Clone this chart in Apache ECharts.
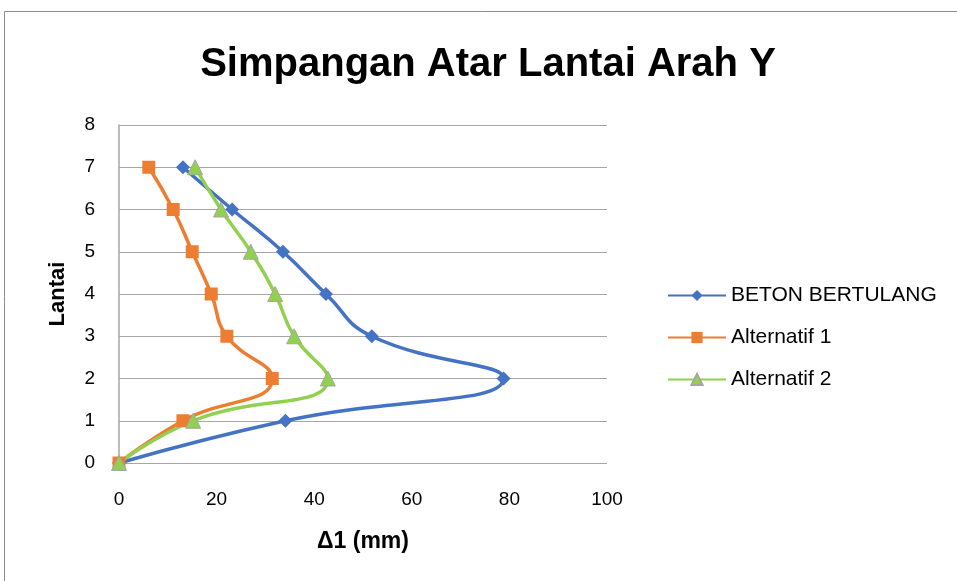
<!DOCTYPE html>
<html><head><meta charset="utf-8">
<script src="https://cdn.jsdelivr.net/npm/echarts@6/dist/echarts.min.js"></script>
<style>html,body{margin:0;padding:0;background:#fff}#c{width:957px;height:581px}</style>
</head><body><div id="c"></div>
<script>
const floors = [0, 1, 2, 3, 4, 5, 6, 7];
const betonBertulang = [0, 34.1, 78.8, 51.8, 42.4, 33.6, 23.2, 13.1];
const alternatif1 = [0, 13.1, 31.4, 22.1, 18.9, 15.0, 11.1, 6.1];
const alternatif2 = [0, 15.2, 42.8, 35.9, 32.0, 27.0, 20.9, 15.6];
const seriesNames = ['BETON BERTULANG', 'Alternatif 1', 'Alternatif 2'];

const pairs = vals => vals.map((v, i) => [v, floors[i]]);
const font = '"Liberation Sans", "Open Sans", sans-serif';
const chart = echarts.init(document.getElementById('c'));
const common = { type: 'line', smooth: 0.5, lineStyle: { width: 3.5 }, z: 3 };
chart.setOption({
  animation: false,
  textStyle: { fontFamily: font },
  graphic: [{ type: 'rect', shape: { x: 4.5, y: 11.5, width: 960, height: 580 }, style: { fill: 'none', stroke: '#8c8c8c', lineWidth: 1 }, silent: true }],
  title: { text: 'Simpangan Atar Lantai Arah Y', left: 483, textAlign: 'center', top: 40,
    textStyle: { fontFamily: font, fontWeight: 'bold', fontSize: 40, color: '#000' } },
  legend: {
    orient: 'vertical', left: 662, top: 280, itemGap: 21, itemWidth: 58, itemHeight: 14,
    textStyle: { fontFamily: font, fontSize: 21, color: '#000' },
    data: seriesNames
  },
  grid: { left: 119, right: 350, top: 125, bottom: 118 },
  xAxis: {
    type: 'value', min: 0, max: 100, interval: 20,
    name: 'Δ1 (mm)', nameLocation: 'middle', nameGap: 67,
    nameTextStyle: { fontFamily: font, fontWeight: 'bold', fontSize: 23, color: '#000' },
    axisLine: { show: false }, axisTick: { show: false },
    axisLabel: { fontSize: 19, color: '#000', margin: 27 },
    splitLine: { show: false }
  },
  yAxis: {
    type: 'value', min: 0, max: 8, interval: 1,
    name: 'Lantai', nameLocation: 'middle', nameGap: 50,
    nameTextStyle: { fontFamily: font, fontWeight: 'bold', fontSize: 22, color: '#000' },
    axisLine: { show: true, lineStyle: { color: '#a6a6a6', width: 1.5 } }, axisTick: { show: false },
    axisLabel: { fontSize: 19, color: '#000', margin: 24 },
    splitLine: { show: true, lineStyle: { color: '#a6a6a6', width: 1.2 } }
  },
  series: [
    Object.assign({}, common, { name: seriesNames[0], data: pairs(betonBertulang), color: '#4472C4',
      symbol: 'diamond', symbolSize: 14, itemStyle: { color: '#4472C4' } }),
    Object.assign({}, common, { name: seriesNames[1], data: pairs(alternatif1), color: '#ED7D31',
      symbol: 'rect', symbolSize: 13, itemStyle: { color: '#ED7D31' } }),
    Object.assign({}, common, { name: seriesNames[2], data: pairs(alternatif2), color: '#92D050',
      symbol: 'triangle', symbolSize: 15, itemStyle: { color: '#92D050', borderColor: '#a5a5a5', borderWidth: 1 } })
  ]
});
</script></body></html>
